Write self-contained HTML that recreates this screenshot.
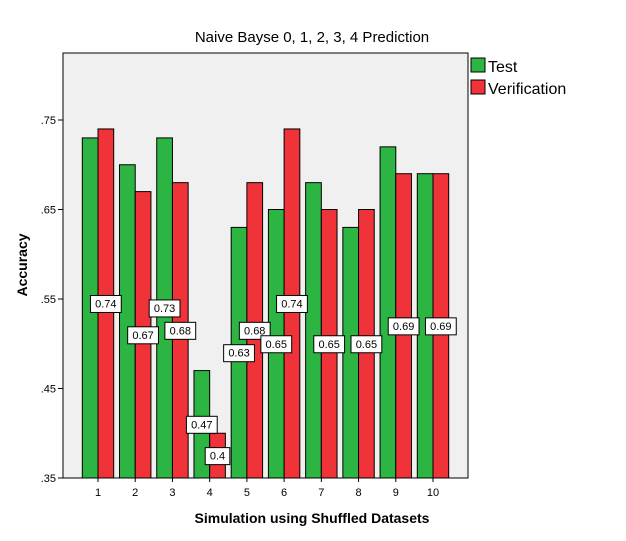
<!DOCTYPE html>
<html><head><meta charset="utf-8"><style>
body{margin:0;background:#fff;}
svg{display:block;font-family:"Liberation Sans",Arial,sans-serif;}
</style></head><body>
<svg id="chart" width="626" height="541">
<rect x="0" y="0" width="626" height="541" fill="#fff"/>
<text x="312" y="42" text-anchor="middle" font-size="15">Naive Bayse 0, 1, 2, 3, 4 Prediction</text>
<rect x="63" y="53" width="405" height="425" fill="#f0f0f0" stroke="#000" stroke-width="1"/>
<g id="bars"></g>
<g id="axes"></g>
<g id="labels"></g>
<text x="312" y="523" text-anchor="middle" font-size="14" font-weight="bold">Simulation using Shuffled Datasets</text>
<text transform="translate(27,265) rotate(-90)" text-anchor="middle" font-size="14" font-weight="bold">Accuracy</text>
<g>
<rect x="471" y="58" width="14" height="14" fill="#2db543" stroke="#000"/>
<text x="488" y="72" font-size="16">Test</text>
<rect x="471" y="80" width="14" height="14" fill="#ef3338" stroke="#000"/>
<text x="488" y="94" font-size="16">Verification</text>
</g>
</svg>
<script>
const categories = ["1","2","3","4","5","6","7","8","9","10"];
const testValues = [0.73,0.70,0.73,0.47,0.63,0.65,0.68,0.63,0.72,0.69];
const verifValues = [0.74,0.67,0.68,0.40,0.68,0.74,0.65,0.65,0.69,0.69];
const yTicks = [0.35,0.45,0.55,0.65,0.75];
const yTickLabels = [".35",".45",".55",".65",".75"];

const NS="http://www.w3.org/2000/svg";
const yMin=0.35, yMax=0.75, yBot=478, yTop=120;
function y(v){return yBot-(v-yMin)/(yMax-yMin)*(yBot-yTop);}
const x0=98, step=(433-98)/9;
function x(i){return x0+i*step;}
const bw=15.7;
function mk(tag,attrs,parent){const e=document.createElementNS(NS,tag);for(const k in attrs)e.setAttribute(k,attrs[k]);parent.appendChild(e);return e;}
const bars=document.getElementById('bars'),axes=document.getElementById('axes'),labels=document.getElementById('labels');
categories.forEach((c,i)=>{
  const g=mk('rect',{x:x(i)-bw,y:y(testValues[i]),width:bw,height:yBot-y(testValues[i]),fill:'#2db543',stroke:'#000','stroke-width':1},bars);
  
  
  const r=mk('rect',{x:x(i),y:y(verifValues[i]),width:bw,height:yBot-y(verifValues[i]),fill:'#ef3338',stroke:'#000','stroke-width':1},bars);
  
  
  const t=mk('text',{x:x(i),y:496,'text-anchor':'middle','font-size':11},axes);
  t.textContent=c;
  
  
  mk('line',{x1:x(i),x2:x(i),y1:yBot,y2:yBot+4,stroke:'#000'},axes);
});
yTicks.forEach((v,i)=>{
  mk('line',{x1:58,x2:63,y1:y(v),y2:y(v),stroke:'#000'},axes);
  const t=mk('text',{x:56,y:y(v)+4,'text-anchor':'end','font-size':11},axes);
  t.textContent=yTickLabels[i];
  
  
});
function fmt(v){return String(Math.round(v*100)/100);}
function label(cx,v,name){
  const cy=y((v+yMin)/2);
  const txt=fmt(v);
  const w=txt.length*6.2+6;
  const g=mk('g',{},labels);
  
  
  mk('rect',{x:cx-w/2,y:cy-8,width:w,height:17,fill:'#fff',stroke:'#000','stroke-width':1},g);
  const t=mk('text',{x:cx,y:cy+4,'text-anchor':'middle','font-size':11},g);
  t.textContent=txt;
  return cy;
}
categories.forEach((c,i)=>{
  const ry=label(x(i)+bw/2,verifValues[i],'value-label-verification-'+c);
  const ty=y((testValues[i]+yMin)/2);
  if(Math.abs(ty-ry)>=19) label(x(i)-bw/2,testValues[i],'value-label-test-'+c);
});
</script>
</body></html>
